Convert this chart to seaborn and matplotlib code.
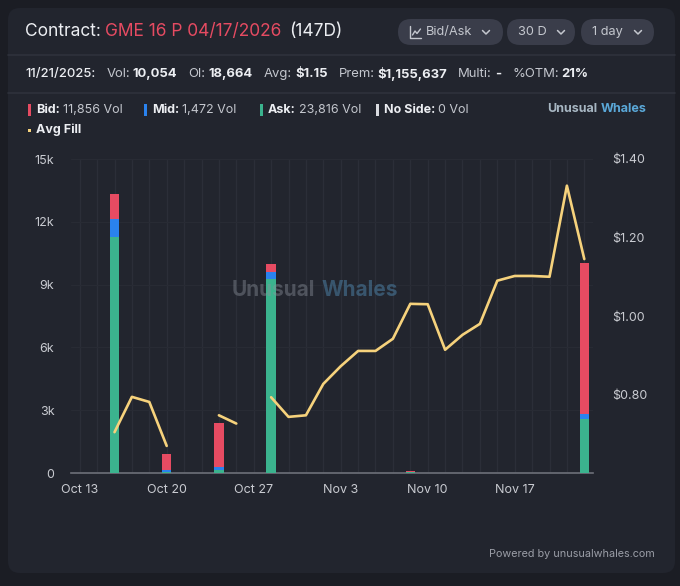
import numpy as np
import pandas as pd
import matplotlib
matplotlib.use("Agg")
import matplotlib.pyplot as plt
import seaborn as sns
from matplotlib.patches import FancyBboxPatch, Rectangle
from matplotlib.lines import Line2D
from matplotlib.transforms import IdentityTransform

# ---------------- data ----------------
days = ["Oct 13", "Oct 14", "Oct 15", "Oct 16", "Oct 17",
        "Oct 20", "Oct 21", "Oct 22", "Oct 23", "Oct 24",
        "Oct 27", "Oct 28", "Oct 29", "Oct 30", "Oct 31",
        "Nov 3", "Nov 4", "Nov 5", "Nov 6", "Nov 7",
        "Nov 10", "Nov 11", "Nov 12", "Nov 13", "Nov 14",
        "Nov 17", "Nov 18", "Nov 19", "Nov 20", "Nov 21"]
bid = [0, 0, 1200, 1, 1, 770, 0, 0, 2130, 2,
       0, 390, 1, 2, 1, 1, 2, 1, 1, 30,
       1, 1, 2, 1, 1, 1, 1, 1, 2, 7254]
mid = [0, 0, 830, 0, 0, 80, 0, 0, 130, 0,
       0, 350, 0, 0, 0, 0, 0, 0, 0, 0,
       0, 0, 0, 0, 0, 0, 0, 0, 0, 210]
ask = [0, 0, 11290, 3, 2, 60, 0, 0, 140, 3,
       0, 9250, 4, 3, 4, 5, 3, 4, 2, 70,
       4, 3, 3, 4, 5, 4, 3, 2, 3, 2590]
avg_fill = [np.nan, np.nan, 0.704, 0.794, 0.781, 0.669, np.nan, np.nan, 0.747, 0.726,
            np.nan, 0.793, 0.743, 0.747, 0.827, 0.872, 0.911, 0.911, 0.942, 1.031,
            1.030, 0.914, 0.952, 0.980, 1.090, 1.102, 1.102, 1.100, 1.332, 1.145]
tick_days = ["Oct 13", "Oct 20", "Oct 27", "Nov 3", "Nov 10", "Nov 17"]
vol_ticks = [0, 3000, 6000, 9000, 12000, 15000]
vol_labels = ["0", "3k", "6k", "9k", "12k", "15k"]
price_ticks = [0.80, 1.00, 1.20, 1.40]
price_labels = ["$0.80", "$1.00", "$1.20", "$1.40"]

# ---------------- style ----------------
OUTER = "#1b1d24"
CARD = "#22252e"
SEP = "#2f323c"
PILL = "#3a3d4a"
RED = "#e64b62"
BLUE = "#2a82ee"
GREEN = "#3bb38e"
YEL = "#f6d27c"
WHITE = "#eceef2"
LGREY = "#c4c7ce"
TICK = "#c9cbd1"
GRID = "#2b2e38"

sns.set_theme(style="dark")
plt.rcParams['font.family'] = ['Inter', 'DejaVu Sans']

W, H = 680, 586
fig = plt.figure(figsize=(W / 100, H / 100), dpi=100, facecolor=OUTER)
ID = IdentityTransform()
R = fig.canvas.get_renderer()


def Y(y):
    return H - y


def seq(x, y, parts, size):
    for txt, color, weight, gap in parts:
        t = fig.text(x, Y(y), txt, color=color, fontsize=size, fontweight=weight,
                     va="center", ha="left", transform=ID, zorder=5)
        bb = t.get_window_extent(renderer=R)
        x = bb.x1 + gap
    return x


# card
fig.patches.append(FancyBboxPatch((8, Y(573)), 667, 565, boxstyle="round,pad=0,rounding_size=12",
                                  transform=ID, facecolor=CARD, edgecolor="none", zorder=-10))
for yy in (55, 93):
    fig.lines.append(Line2D([8, 675], [Y(yy), Y(yy)], transform=ID, color=SEP, lw=1.2, zorder=-5))

# title
seq(25, 32, [("Contract:", WHITE, "normal", 4),
             ("GME 16 P 04/17/2026", RED, "normal", 8),
             ("(147D)", WHITE, "normal", 0)], 12.5)

# pills
for (x0, x1) in [(398, 503), (507, 575), (581, 654)]:
    fig.patches.append(FancyBboxPatch((x0, Y(45)), x1 - x0, 26, boxstyle="round,pad=0,rounding_size=13",
                                      transform=ID, facecolor=PILL, edgecolor="none", zorder=1))
for tx, s, cx in [(426, "Bid/Ask", 486), (518, "30 D", 561), (592, "1 day", 638)]:
    fig.text(tx, Y(32), s, color=LGREY, fontsize=9.2, va="center", ha="left", transform=ID, zorder=5)
    fig.lines.append(Line2D([cx - 3.5, cx, cx + 3.5], [Y(30.5), Y(34), Y(30.5)], transform=ID,
                            color=LGREY, lw=1.1, zorder=5))
# chart icon
fig.lines.append(Line2D([410, 410, 421], [Y(26), Y(38), Y(38)], transform=ID, color=LGREY, lw=1.0, zorder=5))
fig.lines.append(Line2D([412.5, 415, 417, 420.5], [Y(35), Y(31), Y(33.5), Y(29)], transform=ID,
                        color=LGREY, lw=1.0, zorder=5))

# stats line
seq(25, 74, [("11/21/2025:", WHITE, "medium", 11),
             ("Vol:", LGREY, "normal", 3), ("10,054", WHITE, "bold", 11),
             ("OI:", LGREY, "normal", 3), ("18,664", WHITE, "bold", 11),
             ("Avg:", LGREY, "normal", 3), ("$1.15", WHITE, "bold", 11),
             ("Prem:", LGREY, "normal", 3), ("$1,155,637", WHITE, "bold", 11),
             ("Multi:", LGREY, "normal", 3), ("-", WHITE, "bold", 11),
             ("%OTM:", LGREY, "normal", 3), ("21%", WHITE, "bold", 0)], 9.4)

# legend
for mx, col, label, val in [(28, RED, "Bid:", "11,856 Vol"), (144, BLUE, "Mid:", "1,472 Vol"),
                            (260, GREEN, "Ask:", "23,816 Vol"), (376, "#d9dbe0", "No Side:", "0 Vol")]:
    fig.patches.append(Rectangle((mx, Y(116)), 2.6, 12, transform=ID, facecolor=col, edgecolor="none", zorder=5))
    seq(mx + 8, 110, [(label, WHITE, "bold", 3), (val, LGREY, "normal", 0)], 9.0)
fig.patches.append(Rectangle((28, Y(131.5)), 2.6, 2.6, transform=ID, facecolor=YEL, edgecolor="none", zorder=5))
seq(36, 130, [("Avg Fill", WHITE, "bold", 0)], 9.0)
seq(547, 109, [("Unusual", "#a7b6c2", "bold", 3.5), ("Whales", "#5aa8d8", "bold", 0)], 9.0)

# ---------------- chart ----------------
df = pd.DataFrame({"pos": np.arange(len(days)), "day": days,
                   "bid": bid, "mid": mid, "ask": ask, "fill": avg_fill})
df["total"] = df["bid"] + df["mid"] + df["ask"]
df["askmid"] = df["ask"] + df["mid"]
df["seg"] = df["fill"].isna().cumsum()

ax = fig.add_axes([71 / W, (H - 473) / H, (593 - 71) / W, (473 - 159) / H])
ax.set_facecolor("none")
ax.set_axisbelow(True)
for col, c in [("total", RED), ("askmid", BLUE), ("ask", GREEN)]:
    sns.barplot(data=df, x="pos", y=col, native_scale=True, color=c, saturation=1,
                width=0.55, errorbar=None, linewidth=0, ax=ax, zorder=3)

ax2 = ax.twinx()
ax2.set_facecolor("none")
sns.lineplot(data=df[df["fill"].notna()], x="pos", y="fill", units="seg", estimator=None,
             color=YEL, linewidth=1.9, ax=ax2, legend=False, zorder=4)

ax.set_xlim(-0.5, len(days) - 0.5)
ax.set_ylim(0, 15000)
ax2.set_ylim(0.60, 1.40)

ax.set_xticks([days.index(d) for d in tick_days], tick_days)
ax.set_xticks(np.arange(len(days)), minor=True)
ax.set_yticks(vol_ticks, vol_labels)
ax2.set_yticks(price_ticks, price_labels)
ax.grid(axis="x", which="both", color=GRID, lw=1.0)
ax.grid(axis="y", which="major", color="#282b34", lw=0.8)
ax2.grid(False)
ax.tick_params(axis="x", which="both", length=0, colors=TICK, labelsize=9, pad=8)
ax.tick_params(axis="y", length=0, colors=TICK, labelsize=9, pad=12)
ax2.tick_params(axis="y", length=0, colors=TICK, labelsize=9, pad=14)
for a in (ax, ax2):
    a.set_xlabel("")
    a.set_ylabel("")
    for s in a.spines.values():
        s.set_visible(False)
ax.spines["bottom"].set_visible(True)
ax.spines["bottom"].set_color("#6d7079")
ax.spines["bottom"].set_linewidth(1.2)

# watermark
wm = [("Unusual", "#8c929c", 0.42), ("Whales", "#4f86ad", 0.5)]
x = 232
for s, c, a in wm:
    t = fig.text(x, Y(290), s, color=c, alpha=a, fontsize=15, fontweight="bold",
                 va="center", ha="left", transform=ID, zorder=6)
    x = t.get_window_extent(renderer=R).x1 + 6

fig.text(655, Y(554), "Powered by unusualwhales.com", color="#9a9da6", fontsize=7.8,
         va="center", ha="right", transform=ID, zorder=5)

fig.savefig("out.png", dpi=100, facecolor=OUTER)
